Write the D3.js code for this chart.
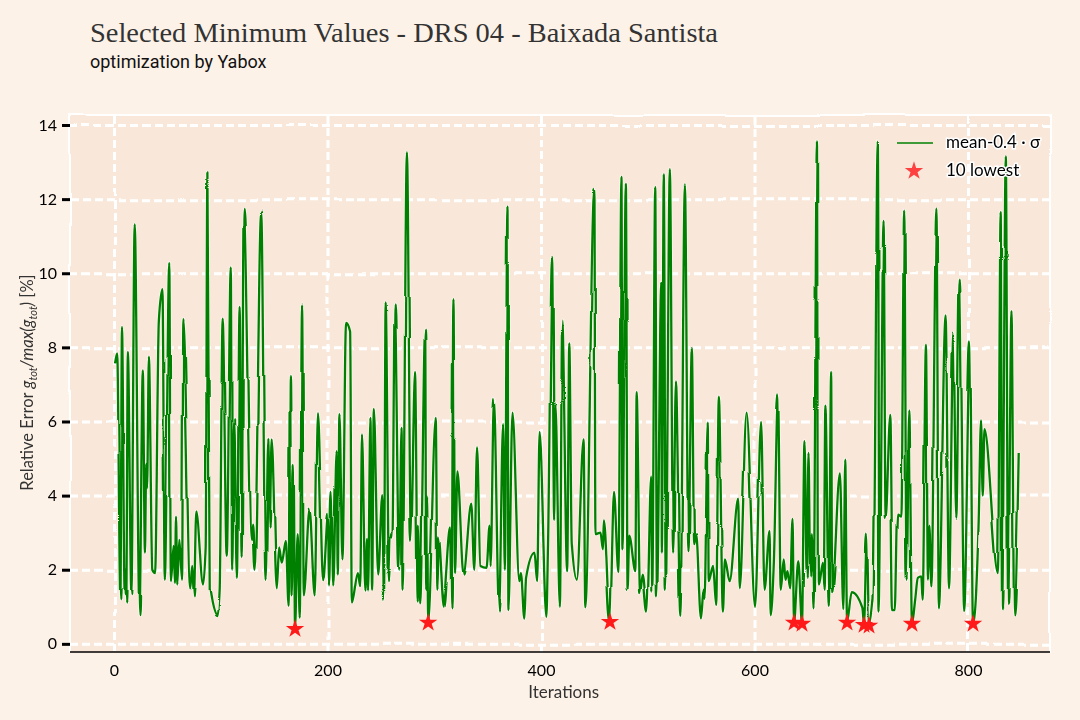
<!DOCTYPE html>
<html>
<head>
<meta charset="utf-8">
<script src="https://cdn.jsdelivr.net/npm/d3@7"></script>
<style>
  body { margin: 0; background: #fdf2e7; }
</style>
</head>
<body>
<script>
// values: local peaks and troughs of the selected minima
const iterations = [
  1, 3, 6, 7.5, 10, 10.7, 11.5, 13, 16.3, 19.4, 23.9, 27, 29, 30.2, 31, 32.7, 35.9, 38.5, 42, 45.4,
  47.6, 51.8, 53.3, 55.9, 57.1, 58.1, 59.3, 61.2, 63.8, 65, 71.4, 73.3, 74.9, 77.1, 83.4, 85.9, 87.5, 89.7, 97, 99,
  101.8, 105.6, 109.4, 110.7, 112.6, 115.1, 117.7, 119.6, 121.5, 128.4, 129.4, 131.6, 137.9, 142, 144.6, 145.8, 147.7, 152.5, 154.7, 157.2,
  161, 163.6, 164.8, 166.4, 168.3, 169.6, 172.1, 174, 176.2, 177.8, 183.2, 188, 191.1, 195.9, 200.6, 201.3, 203.8, 205.4, 208.6, 209.6,
  211.2, 214, 217.4, 221.2, 222.8, 228.5, 230.7, 232.3, 235.5, 237.1, 238, 240.2, 241.8, 243.4, 247.5, 251.3, 252.9, 254.5, 257.7, 259.2,
  260.8, 263, 267.2, 269.4, 270.3, 274.4, 278.2, 282, 284.6, 285.5, 286.8, 291.5, 292.5, 293.3, 294.3, 301.4, 303, 304.2, 309, 310.9,
  314.7, 316.2, 318, 319.5, 321.7, 327.4, 334.7, 337.5, 340.1, 343.2, 349, 351.8, 352.8, 355.9, 360.7, 364.5, 366.1, 368.6, 369.5, 373.3,
  379.7, 381.2, 384.4, 386, 393.9, 396.4, 398.7, 405, 406.6, 410.4, 412.3, 413.5, 417.7, 419.9, 424.5, 426.5, 428.8, 433.6, 439.9, 441.5,
  450, 451, 455.7, 458, 458.9, 464.6, 468.4, 472.5, 475.4, 476.3, 479.5, 481.1, 482.7, 488.4, 489.6, 492.8, 495.3, 499.4, 503.2, 504.2,
  507, 508.6, 512.7, 513.2, 515, 516.9, 520.7, 523.8, 526.4, 530.5, 534.8, 538.1, 541.3, 543.5, 545.4, 549.8, 552.4, 553.2, 556.2, 557.1,
  561.2, 564.1, 566.6, 570.4, 572.3, 576.7, 584.7, 586.2, 592.6, 600.5, 606.2, 609.4, 614.1, 615.1, 618.2, 622, 624.6, 627.4, 629, 630.9,
  633.4, 635.6, 637, 641, 644.5, 646.8, 649, 650.6, 652.2, 653.7, 655.3, 658.5, 659.4, 663.2, 664.8, 666.4, 669.6, 671.8, 672.7, 680,
  683.2, 685, 686.7, 691.1, 701, 702.6, 705.2, 707.3, 711.4, 715.5, 717.1, 720.9, 722.8, 727.2, 729.7, 732.3, 734.5, 737.6, 740.2, 742.5,
  745, 747.5, 750.5, 753, 756.2, 757.5, 760.6, 762.5, 763.8, 765.7, 770.4, 772.7, 779, 782.2, 786.3, 789, 792.3, 796.4, 801.8, 804.7,
  810, 812.2, 813.8, 815.4, 828, 830.6, 831.9, 835.4, 837.6, 840.7, 843.3, 847.5
];
const errors = [
  7.57, 7.84, 1.23, 8.55, 1.37, 2.0, 1.14, 7.88, 1.37, 11.32, 0.8, 7.38, 2.46, 4.83, 4.2, 7.75, 2.0, 1.91, 8.7, 9.57,
  1.73, 10.28, 1.69, 2.64, 1.64, 3.46, 1.6, 2.83, 1.73, 8.77, 1.5, 2.1, 1.28, 3.6, 1.6, 2.64, 12.72, 1.46, 0.75, 1.46,
  8.8, 2.37, 10.16, 2.0, 6.1, 1.78, 9.12, 2.37, 11.76, 2.83, 3.24, 2.0, 11.69, 1.73, 5.56, 3.14, 5.52, 1.5, 2.6, 2.19,
  2.78, 1.0, 7.23, 1.28, 4.83, 0.4, 2.96, 0.68, 9.16, 1.28, 3.65, 1.28, 6.2, 1.69, 3.51, 1.55, 4.1, 1.55, 5.2, 1.87,
  6.2, 2.28, 8.66, 8.43, 1.09, 1.91, 1.55, 5.65, 1.41, 2.83, 1.41, 6.1, 1.46, 6.34, 1.87, 4.01, 1.19, 9.21, 1.69, 2.96,
  2.87, 9.16, 2.0, 5.83, 1.46, 13.26, 2.78, 7.34, 1.14, 3.19, 1.09, 8.48, 1.46, 3.97, 0.57, 6.1, 1.46, 2.87, 1.0, 1.82,
  3.14, 0.96, 9.3, 1.91, 4.65, 1.87, 3.78, 2.0, 5.3, 2.1, 2.05, 3.19, 2.1, 6.61, 0.87, 5.93, 2.0, 11.8, 0.91, 6.24,
  1.69, 1.91, 0.68, 1.78, 2.46, 1.69, 5.72, 0.73, 2.73, 10.44, 3.37, 6.47, 1.0, 8.71, 1.96, 8.11, 2.73, 1.73, 5.52, 0.96,
  12.3, 2.96, 3.0, 2.55, 3.33, 0.59, 4.1, 1.91, 12.63, 2.55, 12.44, 1.46, 2.92, 1.96, 6.79, 1.37, 1.87, 0.87, 4.51, 1.41,
  12.32, 1.28, 9.75, 2.46, 12.67, 1.46, 12.81, 2.46, 7.11, 0.73, 12.4, 2.5, 7.98, 2.69, 2.96, 0.66, 1.46, 1.19, 5.97, 1.69,
  2.1, 1.05, 6.67, 0.87, 2.28, 1.69, 3.92, 1.5, 6.24, 1.0, 5.99, 1.46, 3.05, 0.77, 2.28, 6.73, 1.46, 2.28, 1.73, 1.96,
  1.5, 3.37, 0.57, 2.23, 0.54, 5.47, 1.78, 5.15, 1.82, 2.96, 0.96, 13.56, 1.6, 2.19, 1.46, 6.43, 1.0, 7.34, 1.37, 4.6,
  0.91, 4.97, 0.57, 1.37, 0.95, 0.51, 3.0, 0.49, 1.19, 13.56, 0.87, 11.41, 3.42, 6.18, 0.91, 0.91, 3.51, 3.46, 11.69, 1.73,
  6.3, 0.54, 1.19, 1.78, 1.82, 1.19, 8.07, 1.73, 3.19, 1.55, 11.74, 0.96, 8.89, 1.5, 8.4, 3.37, 9.83, 0.91, 8.16, 0.54,
  3.33, 6.03, 4.0, 5.79, 1.91, 11.65, 0.96, 13.15, 1.09, 8.98, 0.77, 5.15
];
const lowestIter = [169.6, 294.3, 464.6, 637, 644.5, 686.7, 702.6, 707.3, 747.5, 804.7];
const lowestErr = [0.40, 0.57, 0.59, 0.57, 0.54, 0.57, 0.51, 0.49, 0.54, 0.54];
const xTicks = [0, 200, 400, 600, 800];
const yTicks = [0, 2, 4, 6, 8, 10, 12, 14];

const W = 1080, H = 720;
const pLeft = 70, pRight = 1050, pTop = 115, pBottom = 652;
const handFont = "'Humor Sans', Lato, 'DejaVu Sans', sans-serif";

const svg = d3.select("body").append("svg")
  .attr("width", W).attr("height", H);

// hand-drawn wobble, a bit like the xkcd style
const defs = svg.append("defs");
function wobble(id, freq, scale, seed) {
  const f = defs.append("filter").attr("id", id)
    .attr("filterUnits", "userSpaceOnUse")
    .attr("x", 0).attr("y", 0).attr("width", W).attr("height", H);
  f.append("feTurbulence").attr("type", "fractalNoise")
    .attr("baseFrequency", freq).attr("numOctaves", 1).attr("seed", seed).attr("result", "noise");
  f.append("feDisplacementMap").attr("in", "SourceGraphic").attr("in2", "noise")
    .attr("scale", scale).attr("xChannelSelector", "R").attr("yChannelSelector", "G");
}
wobble("xkcd", 0.012, 4, 7);
wobble("xkcdLine", 0.014, 3.5, 3);

svg.append("rect").attr("width", W).attr("height", H).attr("fill", "#fdf2e7");

const x = d3.scaleLinear().domain([-41.2, 876.8]).range([pLeft, pRight]);
const y = d3.scaleLinear().domain([-0.22, 14.27]).range([pBottom, pTop]);

// axes background
svg.append("rect")
  .attr("x", pLeft).attr("y", pTop)
  .attr("width", pRight - pLeft).attr("height", pBottom - pTop)
  .attr("fill", "#f9e8da");

// grid
const grid = svg.append("g").attr("filter", "url(#xkcd)");
grid.append("g")
  .attr("transform", `translate(${pLeft},0)`)
  .call(d3.axisLeft(y).tickValues(yTicks).tickSize(-(pRight - pLeft)).tickFormat(""))
  .call(g => g.select(".domain").remove());
grid.append("g")
  .attr("transform", `translate(0,${pBottom})`)
  .call(d3.axisBottom(x).tickValues(xTicks).tickSize(-(pBottom - pTop)).tickFormat(""))
  .call(g => g.select(".domain").remove());
grid.selectAll(".tick line")
  .attr("stroke", "#ffffff").attr("stroke-width", 3)
  .attr("stroke-dasharray", "8,4");

// spines
svg.append("path")
  .attr("filter", "url(#xkcd)")
  .attr("d", `M${pLeft},${pBottom}V${pTop}H${pRight}V${pBottom}`)
  .attr("fill", "none").attr("stroke", "#ffffff").attr("stroke-width", 2);
svg.append("line")
  .attr("x1", pLeft).attr("x2", pRight).attr("y1", pBottom).attr("y2", pBottom)
  .attr("stroke", "#000").attr("stroke-width", 1.5);

// y axis ticks and labels
const yAxis = svg.append("g")
  .attr("transform", `translate(${pLeft},0)`)
  .call(d3.axisLeft(y).tickValues(yTicks).tickSize(8).tickPadding(5))
  .call(g => g.select(".domain").remove());
yAxis.selectAll(".tick line").attr("stroke", "#000").attr("stroke-width", 3);
yAxis.selectAll(".tick text")
  .attr("font-family", handFont).attr("font-size", 16).attr("fill", "#000");

// x axis labels
const xAxis = svg.append("g")
  .attr("transform", `translate(0,${pBottom})`)
  .call(d3.axisBottom(x).tickValues(xTicks).tickSize(0).tickPadding(13))
  .call(g => g.select(".domain").remove());
xAxis.selectAll(".tick text")
  .attr("font-family", handFont).attr("font-size", 16).attr("fill", "#000");

// data line
const pts = iterations.map((it, i) => [it, errors[i]]);
const line = d3.line().curve(d3.curveMonotoneX).x(d => x(d[0])).y(d => y(d[1]));
const lineG = svg.append("g").attr("filter", "url(#xkcdLine)");
lineG.append("path").datum(pts)
  .attr("d", line).attr("fill", "none")
  .attr("stroke", "#ffffff").attr("stroke-width", 3.6)
  .attr("stroke-linejoin", "round").attr("stroke-opacity", 0.6);
lineG.append("path").datum(pts)
  .attr("d", line).attr("fill", "none")
  .attr("stroke", "#008000").attr("stroke-width", 2.3)
  .attr("stroke-linejoin", "round");

// lowest markers
const star = d3.symbol().type(d3.symbolStar).size(105);
svg.append("g").selectAll("path")
  .data(lowestIter.map((it, i) => [it, lowestErr[i]]))
  .join("path")
  .attr("d", star)
  .attr("transform", d => `translate(${x(d[0])},${y(d[1])})`)
  .attr("fill", "#ff1a1a");

// legend
const leg = svg.append("g");
leg.append("line")
  .attr("x1", 897).attr("x2", 933).attr("y1", 143).attr("y2", 143)
  .attr("stroke", "#008000").attr("stroke-width", 1.3);
leg.append("path")
  .attr("d", star)
  .attr("transform", "translate(914,171)")
  .attr("fill", "#ff4040");
leg.selectAll("text")
  .data(["mean-0.4 · σ", "10 lowest"])
  .join("text")
  .attr("x", 946).attr("y", (d, i) => 148 + i * 28)
  .attr("font-family", handFont).attr("font-size", 17)
  .attr("fill", "#000")
  .attr("stroke", "#ffffff").attr("stroke-width", 3)
  .attr("paint-order", "stroke")
  .text(d => d);

// axis titles
svg.append("text")
  .attr("x", (x(0) + x(850)) / 2 - 4).attr("y", 698)
  .attr("text-anchor", "middle")
  .attr("font-family", handFont).attr("font-size", 17).attr("fill", "#333")
  .text("Iterations");

const yl = svg.append("text")
  .attr("transform", `translate(33,${(pTop + pBottom) / 2 - 1}) rotate(-90)`)
  .attr("text-anchor", "middle")
  .attr("font-family", handFont).attr("font-size", 16.5).attr("fill", "#333");
yl.append("tspan").text("Relative Error ");
yl.append("tspan").attr("font-style", "italic").text("g");
yl.append("tspan").attr("font-style", "italic").attr("font-size", 11).attr("dy", 4).text("tot");
yl.append("tspan").attr("font-style", "italic").attr("dy", -4).text("/max(g");
yl.append("tspan").attr("font-style", "italic").attr("font-size", 11).attr("dy", 4).text("tot");
yl.append("tspan").attr("font-style", "italic").attr("dy", -4).text(")");
yl.append("tspan").text(" [%]");

// titles
svg.append("text")
  .attr("x", 90).attr("y", 42)
  .attr("font-family", "'Liberation Serif', 'DejaVu Serif', serif")
  .attr("font-size", 27).attr("fill", "#333")
  .attr("textLength", 628).attr("lengthAdjust", "spacingAndGlyphs")
  .text("Selected Minimum Values - DRS 04 - Baixada Santista");
svg.append("text")
  .attr("x", 90).attr("y", 68)
  .attr("font-family", "Roboto, sans-serif")
  .attr("font-size", 18).attr("fill", "#111")
  .text("optimization by Yabox");
</script>
</body>
</html>
